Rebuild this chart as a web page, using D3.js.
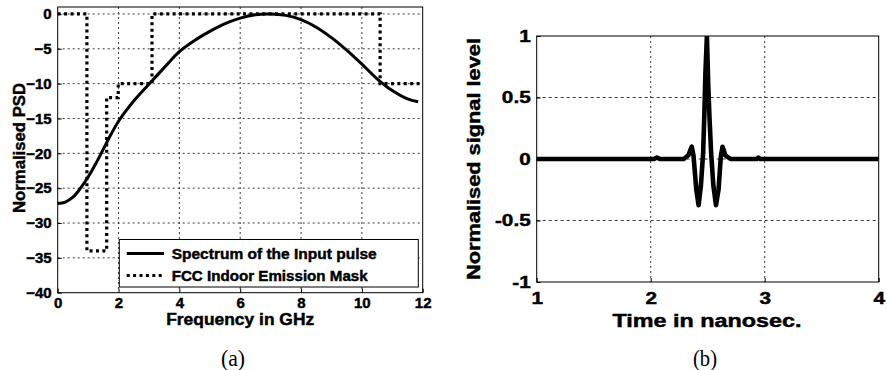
<!DOCTYPE html>
<html><head><meta charset="utf-8">
<script src="https://cdn.jsdelivr.net/npm/d3@7"></script>
<style>
body{margin:0;background:#fff}
svg{display:block}
text{font-family:Arial,"Liberation Sans",sans-serif;font-weight:bold;fill:#000}
text.heavy{stroke:#000;stroke-width:0.45px}
</style>
</head><body>
<svg id="c" width="887" height="370"></svg>
<script>
// ---------- Panel (a) data ----------
const freqGHz = [0,0.25,0.5,0.75,1.0,1.25,1.5,1.75,2.0,2.5,3.0,3.5,4.0,4.5,5.0,5.5,6.0,6.5,7.0,7.5,8.0,8.5,9.0,9.5,10.0,10.5,11.0,11.5,11.85];
const psdDb   = [-27.2,-27.0,-26.3,-25.0,-23.4,-21.5,-19.4,-17.3,-15.4,-12.5,-10.1,-7.7,-5.4,-3.8,-2.5,-1.4,-0.6,-0.1,0,-0.2,-0.8,-1.9,-3.4,-5.2,-7.2,-9.3,-11.0,-12.2,-12.6];
const maskFreq = [0,0.96,0.96,1.61,1.61,1.99,1.99,3.1,3.1,10.6,10.6,12];
const maskDb   = [0,0,-34,-34,-12,-12,-10,-10,0,0,-10,-10];
const xTicksA = [0,2,4,6,8,10,12];
const yTicksA = [-40,-35,-30,-25,-20,-15,-10,-5,0];
const legendLabels = ["Spectrum of the Input pulse","FCC Indoor Emission Mask"];

// ---------- Panel (b) data ----------
const timeNs = [1.0,2.03,2.055,2.08,2.29,2.33,2.36,2.375,2.40,2.42,2.44,2.46,2.47,2.48,2.493,2.505,2.515,2.53,2.55,2.573,2.595,2.615,2.63,2.655,2.70,2.93,2.945,2.96,4.0];
const signal = [0,0,0.012,0,0,0.03,0.10,0.03,-0.25,-0.375,-0.22,0.05,0.35,0.7,1.0,0.6,0.35,0.05,-0.22,-0.375,-0.25,0.02,0.10,0.03,0,0,0.012,0,0];
const xTicksB = [1,2,3,4];
const yTicksB = [-1,-0.5,0,0.5,1];

const captions = ["(a)","(b)"];
const xLabelA = "Frequency in GHz", yLabelA = "Normalised PSD";
const xLabelB = "Time in nanosec.", yLabelB = "Normalised signal level";

const svg = d3.select("#c");

// ================= Panel (a) =================
const A = {l:57.7, r:422.7, t:7, b:292.7};
const xA = d3.scaleLinear().domain([0,12]).range([A.l,A.r]);
const yA = d3.scaleLinear().domain([-40,1]).range([A.b,A.t]);
const gA = svg.append("g");

gA.append("g").selectAll("line").data(xTicksA.slice(1,-1)).join("line")
  .attr("x1",d=>xA(d)).attr("x2",d=>xA(d)).attr("y1",A.t).attr("y2",A.b)
  .attr("stroke","#222").attr("stroke-width",0.9).attr("stroke-dasharray","2,3");
gA.append("g").selectAll("line").data(yTicksA.slice(1)).join("line")
  .attr("x1",A.l).attr("x2",A.r).attr("y1",d=>yA(d)).attr("y2",d=>yA(d))
  .attr("stroke","#222").attr("stroke-width",0.9).attr("stroke-dasharray","2,3");

gA.append("defs").append("clipPath").attr("id","clipA").append("rect")
  .attr("x",A.l).attr("y",A.t).attr("width",A.r-A.l).attr("height",A.b-A.t);

const maskPts = maskFreq.map((f,i)=>[f,maskDb[i]]);
gA.append("path").datum(maskPts).attr("clip-path","url(#clipA)")
  .attr("d",d3.line().x(d=>xA(d[0])).y(d=>yA(d[1])))
  .attr("fill","none").attr("stroke","#000").attr("stroke-width",3.2)
  .attr("stroke-dasharray","3,3.4");

const psdPts = freqGHz.map((f,i)=>[f,psdDb[i]]);
gA.append("path").datum(psdPts)
  .attr("d",d3.line().curve(d3.curveCatmullRom).x(d=>xA(d[0])).y(d=>yA(d[1])))
  .attr("fill","none").attr("stroke","#000").attr("stroke-width",3);

const axA_x = gA.append("g").attr("transform",`translate(0,${A.b})`)
  .call(d3.axisBottom(xA).tickValues(xTicksA).tickSizeInner(-4).tickSizeOuter(0).tickPadding(5));
const axA_y = gA.append("g").attr("transform",`translate(${A.l},0)`)
  .call(d3.axisLeft(yA).tickValues(yTicksA).tickSizeInner(-4).tickSizeOuter(0).tickPadding(6));
[axA_x,axA_y].forEach(ax=>{
  ax.select(".domain").remove();
  ax.selectAll("line").attr("stroke","#000");
  ax.selectAll("text").attr("class","heavy").style("font-size","15px").style("font-family","Arial, 'Liberation Sans', sans-serif").style("font-weight","bold");
});

gA.append("rect").attr("x",A.l).attr("y",A.t).attr("width",A.r-A.l).attr("height",A.b-A.t)
  .attr("fill","none").attr("stroke","#000").attr("stroke-width",1);

const lg = gA.append("g");
lg.append("rect").attr("x",119.3).attr("y",239.5).attr("width",299).attr("height",47.5)
  .attr("fill","#fff").attr("stroke","#000").attr("stroke-width",1);
lg.append("line").attr("x1",126.7).attr("x2",164).attr("y1",253.5).attr("y2",253.5)
  .attr("stroke","#000").attr("stroke-width",3);
lg.append("line").attr("x1",126.7).attr("x2",164).attr("y1",275.5).attr("y2",275.5)
  .attr("stroke","#000").attr("stroke-width",3.2).attr("stroke-dasharray","3,3.4");
lg.selectAll("text").data(legendLabels).join("text").attr("class","heavy")
  .attr("x",171.7).attr("y",(d,i)=>253.5+i*22).attr("dy","0.36em")
  .style("font-size","15px")
  .attr("textLength",(d,i)=>i===0?205:196).attr("lengthAdjust","spacingAndGlyphs")
  .text(d=>d);

gA.append("text").attr("class","heavy").attr("x",(A.l+A.r)/2).attr("y",325).attr("text-anchor","middle")
  .style("font-size","16px").attr("textLength",148).attr("lengthAdjust","spacingAndGlyphs").text(xLabelA);
gA.append("text").attr("class","heavy").attr("transform","translate(25,148) rotate(-90)").attr("text-anchor","middle")
  .style("font-size","17px").attr("textLength",130).attr("lengthAdjust","spacingAndGlyphs").text(yLabelA);

// ================= Panel (b) =================
const B = {l:536.7, r:878.7, t:36, b:282};
const xB = d3.scaleLinear().domain([1,4]).range([B.l,B.r]);
const yB = d3.scaleLinear().domain([-1,1]).range([B.b,B.t]);
const gB = svg.append("g");

gB.append("g").selectAll("line").data(xTicksB.slice(1,-1)).join("line")
  .attr("x1",d=>xB(d)).attr("x2",d=>xB(d)).attr("y1",B.t).attr("y2",B.b)
  .attr("stroke","#222").attr("stroke-width",0.9).attr("stroke-dasharray","2,3");
gB.append("g").selectAll("line").data(yTicksB.slice(1,-1)).join("line")
  .attr("x1",B.l).attr("x2",B.r).attr("y1",d=>yB(d)).attr("y2",d=>yB(d))
  .attr("stroke","#222").attr("stroke-width",0.9).attr("stroke-dasharray","3,3");

gB.append("defs").append("clipPath").attr("id","clipB").append("rect")
  .attr("x",B.l).attr("y",B.t).attr("width",B.r-B.l).attr("height",B.b-B.t);

const sigPts = timeNs.map((t,i)=>[t,signal[i]]);
gB.append("path").datum(sigPts).attr("clip-path","url(#clipB)")
  .attr("d",d3.line().x(d=>xB(d[0])).y(d=>yB(d[1])))
  .attr("fill","none").attr("stroke","#000").attr("stroke-width",4.6).attr("stroke-linejoin","round");

const axB_x = gB.append("g").attr("transform",`translate(0,${B.b})`)
  .call(d3.axisBottom(xB).tickValues(xTicksB).tickFormat(d3.format("d")).tickSizeInner(-4).tickSizeOuter(0).tickPadding(10));
const axB_y = gB.append("g").attr("transform",`translate(${B.l},0)`)
  .call(d3.axisLeft(yB).tickValues(yTicksB).tickFormat(d=>String(d)).tickSizeInner(-4).tickSizeOuter(0).tickPadding(6));
[axB_x,axB_y].forEach(ax=>{
  ax.select(".domain").remove();
  ax.selectAll("line").attr("stroke","#000");
  ax.selectAll("text").attr("class","heavy").style("font-size","17px").style("font-family","Arial, 'Liberation Sans', sans-serif").style("font-weight","bold")
    .each(function(){ const w=this.getComputedTextLength(); d3.select(this).attr("textLength",w*1.22).attr("lengthAdjust","spacingAndGlyphs"); });
});

gB.append("rect").attr("x",B.l).attr("y",B.t).attr("width",B.r-B.l).attr("height",B.b-B.t)
  .attr("fill","none").attr("stroke","#000").attr("stroke-width",1);

gB.append("text").attr("class","heavy").attr("x",707).attr("y",327).attr("text-anchor","middle")
  .style("font-size","18px").attr("textLength",189).attr("lengthAdjust","spacingAndGlyphs").text(xLabelB);
gB.append("text").attr("class","heavy").attr("transform","translate(480,159) rotate(-90)").attr("text-anchor","middle")
  .style("font-size","18px").attr("textLength",242).attr("lengthAdjust","spacingAndGlyphs").text(yLabelB);

svg.selectAll("text.cap").data(captions).join("text").attr("class","cap")
  .attr("x",(d,i)=>i===0?233:705).attr("y",366).attr("text-anchor","middle")
  .style("font-family","'Liberation Serif','Times New Roman',serif").style("font-weight","normal")
  .style("font-size","24px").attr("textLength",24).attr("lengthAdjust","spacingAndGlyphs").text(d=>d);
</script>
</body></html>
